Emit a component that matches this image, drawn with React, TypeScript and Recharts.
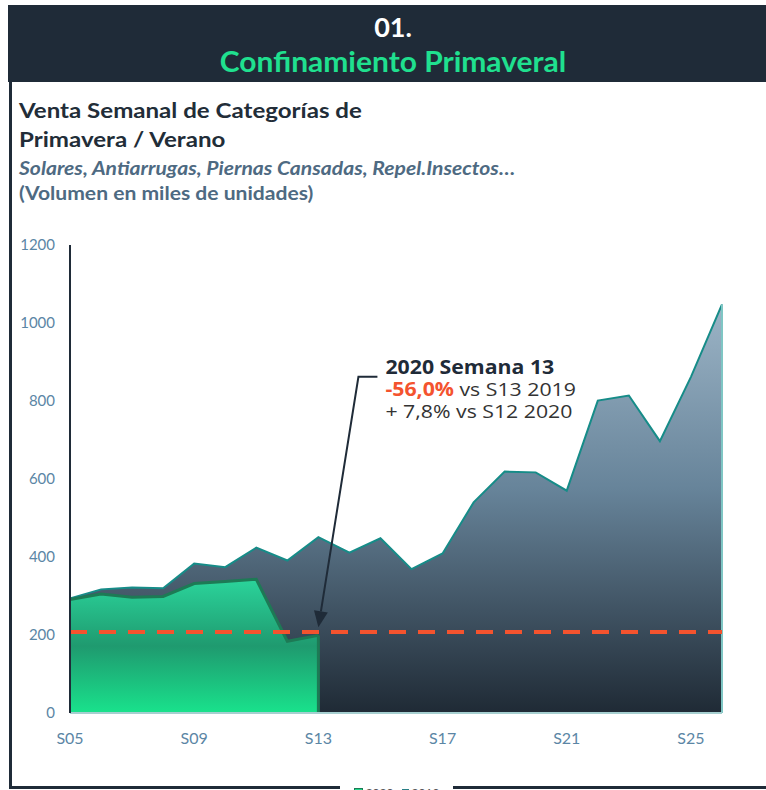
import { Area, AreaChart, ReferenceLine, XAxis, YAxis } from "recharts";

const weeks = ["S05", "S06", "S07", "S08", "S09", "S10", "S11", "S12", "S13", "S14", "S15", "S16", "S17", "S18", "S19", "S20", "S21", "S22", "S23", "S24", "S25", "S26"];
const sales2019 = [294, 317, 322, 320, 383, 374, 424, 391, 451, 411, 448, 369, 409, 540, 619, 617, 570, 801, 814, 697, 862, 1048];
const sales2020 = [291, 305, 297, 299, 332, 337, 343, 184, 199];
const yTicks = [0, 200, 400, 600, 800, 1000, 1200];
const s13Ref2019 = 208;

const data = weeks.map((w, i) => ({
  week: w,
  y2019: sales2019[i],
  y2020: i < sales2020.length ? sales2020[i] : null,
}));

const DARK = "#1f2b38";
const GREEN = "#1fe08f";
const AXIS_TEXT = "#5b86a5";
const TEAL = "#168c88";
const ORANGE = "#f4532e";

// the source picture is a little wider than tall, so text gets stretched sideways
const wide = (sx: number): React.CSSProperties => ({
  transform: `scaleX(${sx})`,
  transformOrigin: "left center",
  whiteSpace: "nowrap",
});

function Arrow(props: any) {
  const { x1, y1, x2, y2 } = props;
  const topX = x2 + 9;
  const dx = x1 - topX;
  const dy = y1 - y2;
  const len = Math.sqrt(dx * dx + dy * dy);
  const ux = dx / len;
  const uy = dy / len;
  const head = 16;
  const half = 7;
  const bx = x1 - ux * head;
  const by = y1 - uy * head;
  const tx = x2 + 36;
  return (
    <g>
      <polyline points={`${x2 + 28},${y2} ${topX},${y2} ${bx},${by}`} fill="none" stroke={DARK} strokeWidth={2} />
      <polygon points={`${x1},${y1} ${bx - uy * half},${by + ux * half} ${bx + uy * half},${by - ux * half}`} fill={DARK} />
      <g transform={`translate(${tx},0) scale(1.12,1)`} fontFamily="'Open Sans', sans-serif" fontSize={19}>
        <text x={0} y={y2 - 3} fill={DARK} fontWeight={700}>2020 Semana 13</text>
        <text x={0} y={y2 + 19} fill="#333">
          <tspan fill={ORANGE} fontWeight={700}>-56,0%</tspan> vs S13 2019
        </text>
        <text x={0} y={y2 + 41} fill="#333">+ 7,8% vs S12 2020</text>
      </g>
    </g>
  );
}

export default function App() {
  return (
    <div style={{ position: "absolute", left: 0, top: 0, width: 766, height: 790, overflow: "hidden", background: "#fff", fontFamily: "Lato, sans-serif" }}>
      <div style={{ position: "absolute", left: 9, top: 82, width: 757, height: 704, borderLeft: `3px solid ${DARK}`, borderBottom: `3px solid ${DARK}` }} />
      <div style={{ position: "absolute", left: 8, top: 5, width: 770, height: 77, background: DARK, textAlign: "center", color: "#fff" }}>
        <div style={{ fontSize: 27, fontWeight: 700, lineHeight: "32px", marginTop: 6 }}>01.</div>
        <div style={{ fontSize: 28, fontWeight: 700, lineHeight: "36px", color: GREEN, transform: "scaleX(1.07)" }}>Confinamiento Primaveral</div>
      </div>
      <div style={{ position: "absolute", left: 19, top: 96, color: "#222d38", fontWeight: 700 }}>
        <div style={{ fontSize: 21.5, lineHeight: "29px", ...wide(1.12) }}>Venta Semanal de Categorías de</div>
        <div style={{ fontSize: 21.5, lineHeight: "29px", ...wide(1.12) }}>Primavera / Verano</div>
        <div style={{ fontSize: 18.5, fontStyle: "italic", lineHeight: "25px", marginTop: 2, color: "#4e6a82", ...wide(1.14) }}>Solares, Antiarrugas, Piernas Cansadas, Repel.Insectos…</div>
        <div style={{ fontSize: 18.5, lineHeight: "25px", color: "#4e6a82", ...wide(1.14) }}>(Volumen en miles de unidades)</div>
      </div>
      <div style={{ position: "absolute", left: 0, top: 0 }}>
        <AreaChart width={766} height={790} data={data} margin={{ top: 245, right: 44, left: 10, bottom: 47 }}>
          <defs>
            <linearGradient id="grad2019" x1="0" y1="0" x2="0" y2="1">
              <stop offset="0%" stopColor="#9cb4c6" />
              <stop offset="45%" stopColor="#67849a" />
              <stop offset="100%" stopColor="#1f2a35" />
            </linearGradient>
            <linearGradient id="grad2020" x1="0" y1="0" x2="0" y2="1">
              <stop offset="0%" stopColor="#2bd49b" />
              <stop offset="50%" stopColor="#1f9a6f" />
              <stop offset="100%" stopColor="#19e28c" />
            </linearGradient>
          </defs>
          <XAxis
            dataKey="week"
            interval={3}
            tickLine={false}
            axisLine={{ stroke: "#a6cfd0", strokeWidth: 2 }}
            tick={{ fill: AXIS_TEXT, fontSize: 16, fontFamily: "Lato, sans-serif" }}
            tickMargin={14}
            height={30}
          />
          <YAxis
            domain={[0, 1200]}
            ticks={yTicks}
            tickLine={false}
            axisLine={{ stroke: DARK, strokeWidth: 2 }}
            tick={{ fill: AXIS_TEXT, fontSize: 15, fontFamily: "Lato, sans-serif" }}
            tickMargin={9}
            width={60}
          />
          <Area type="linear" dataKey="y2019" name="2019" stroke={TEAL} strokeWidth={2} fill="url(#grad2019)" fillOpacity={1} isAnimationActive={false} />
          <Area type="linear" dataKey="y2020" name="2020" stroke="#1d7a55" strokeWidth={3} fill="url(#grad2020)" fillOpacity={1} isAnimationActive={false} connectNulls={false} />
          <ReferenceLine segment={[{ x: "S26", y: 0 }, { x: "S26", y: sales2019[sales2019.length - 1] }]} stroke="#7fc6c4" strokeWidth={2} />
          <ReferenceLine segment={[{ x: "S13", y: 0 }, { x: "S13", y: sales2020[sales2020.length - 1] }]} stroke="#1d7a55" strokeWidth={3} />
          <ReferenceLine y={s13Ref2019} stroke={ORANGE} strokeWidth={4} strokeDasharray="17 12" />
          <ReferenceLine segment={[{ x: "S13", y: 220 }, { x: "S14", y: 862 }]} shape={<Arrow />} />
        </AreaChart>
      </div>
      <div style={{ position: "absolute", left: 340, top: 782, width: 113, height: 12, background: "#fff", fontSize: 12, color: "#555", display: "flex", alignItems: "flex-start", justifyContent: "center", gap: 8, paddingTop: 3 }}>
        <span style={{ display: "flex", alignItems: "center", gap: 3 }}>
          <span style={{ width: 7, height: 7, background: "#1fd88a", border: "1px solid #1d7a55" }} />2020
        </span>
        <span style={{ display: "flex", alignItems: "center", gap: 3 }}>
          <span style={{ width: 7, height: 7, background: "#2a7f86" }} />2019
        </span>
      </div>
    </div>
  );
}
